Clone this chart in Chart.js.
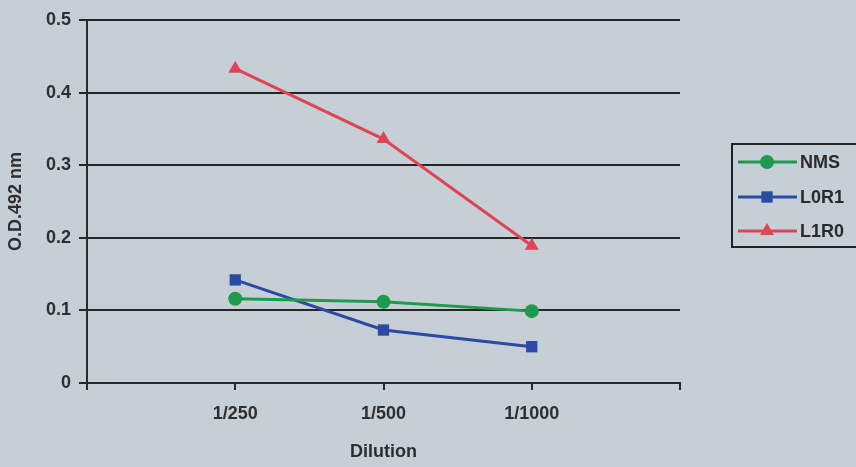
<!DOCTYPE html>
<html>
<head>
<meta charset="utf-8">
<script src="https://cdn.jsdelivr.net/npm/chart.js@4"></script>
<style>
  html, body { margin: 0; padding: 0; background: #c6ced6; }
  canvas { display: block; }
</style>
</head>
<body>
<canvas id="chart" width="856" height="467"></canvas>
<script>
/* ---------- DATA ---------- */
const dilutions = ["1/250", "1/500", "1/1000"];
const nms  = [0.116, 0.112, 0.099];
const l0r1 = [0.142, 0.073, 0.050];
const l1r0 = [0.433, 0.336, 0.189];
const yTicks = [0, 0.1, 0.2, 0.3, 0.4, 0.5];

const series = [
  { label: "NMS",  data: nms,  color: "#1e9a4c", style: "circle",   radius: 7 },
  { label: "L0R1", data: l0r1, color: "#2c4aa4", style: "rect",     radius: 8 },
  { label: "L1R0", data: l1r0, color: "#de4454", style: "triangle", radius: 8 }
];

const fontFamily = "'Liberation Sans', Arial, sans-serif";
const font = { family: fontFamily, size: 18, weight: "bold" };

/* ---------- LEGEND WITH BOX ---------- */
const boxLegend = {
  id: "boxLegend",
  afterDraw(chart) {
    const ctx = chart.ctx;
    const x0 = 732, y0 = 144, w = 140, h = 103;
    const rows = [162, 197, 231];
    ctx.save();
    ctx.strokeStyle = "#222";
    ctx.lineWidth = 2;
    ctx.strokeRect(x0, y0, w, h);
    series.forEach((s, i) => {
      const y = rows[i];
      ctx.strokeStyle = s.color;
      ctx.lineWidth = 3;
      ctx.beginPath();
      ctx.moveTo(738, y);
      ctx.lineTo(797, y);
      ctx.stroke();
      ctx.fillStyle = s.color;
      Chart.helpers.drawPoint(ctx, { pointStyle: s.style, radius: s.radius, borderWidth: 0 }, 767, y);
      ctx.fillStyle = "#2a2a2a";
      ctx.font = "bold 18px " + fontFamily;
      ctx.textBaseline = "middle";
      ctx.fillText(s.label, 800, y + 1);
    });
    ctx.restore();
  }
};

/* ---------- CHART ---------- */
new Chart(document.getElementById("chart"), {
  type: "line",
  data: {
    datasets: series.map(s => ({
      label: s.label,
      data: s.data.map((v, i) => ({ x: i + 1, y: v })),
      borderColor: s.color,
      backgroundColor: s.color,
      borderWidth: 3,
      pointStyle: s.style,
      pointRadius: s.radius,
      pointBorderWidth: 0,
      tension: 0
    }))
  },
  options: {
    responsive: false,
    animation: false,
    layout: { padding: { top: 20, right: 176 } },
    plugins: { legend: { display: false }, tooltip: { enabled: false } },
    scales: {
      x: {
        type: "linear",
        min: 0,
        max: dilutions.length + 1,
        afterBuildTicks: axis => {
          axis.ticks = [0, 1, 2, 3, 4].map(v => ({ value: v }));
        },
        afterFit: axis => { axis.height = 84; },
        ticks: {
          font,
          color: "#2e2e2e",
          padding: 13,
          maxRotation: 0,
          callback: v => dilutions[v - 1] || ""
        },
        grid: { drawOnChartArea: false, color: "#2a2a2a", lineWidth: 2, tickLength: 7 },
        border: { color: "#2a2a2a", width: 2 },
        title: { display: true, text: "Dilution", font, color: "#2e2e2e", padding: { top: 4, bottom: 4 } }
      },
      y: {
        min: 0,
        max: 0.5,
        afterBuildTicks: axis => {
          axis.ticks = yTicks.map(v => ({ value: v }));
        },
        afterFit: axis => { axis.width = 87; },
        ticks: { font, color: "#2e2e2e", padding: 8 },
        grid: { color: "#262626", lineWidth: 2, tickLength: 8 },
        border: { color: "#2a2a2a", width: 2 },
        title: { display: true, text: "O.D.492 nm", font, color: "#2e2e2e", padding: 5 }
      }
    }
  },
  plugins: [boxLegend]
});
</script>
</body>
</html>
